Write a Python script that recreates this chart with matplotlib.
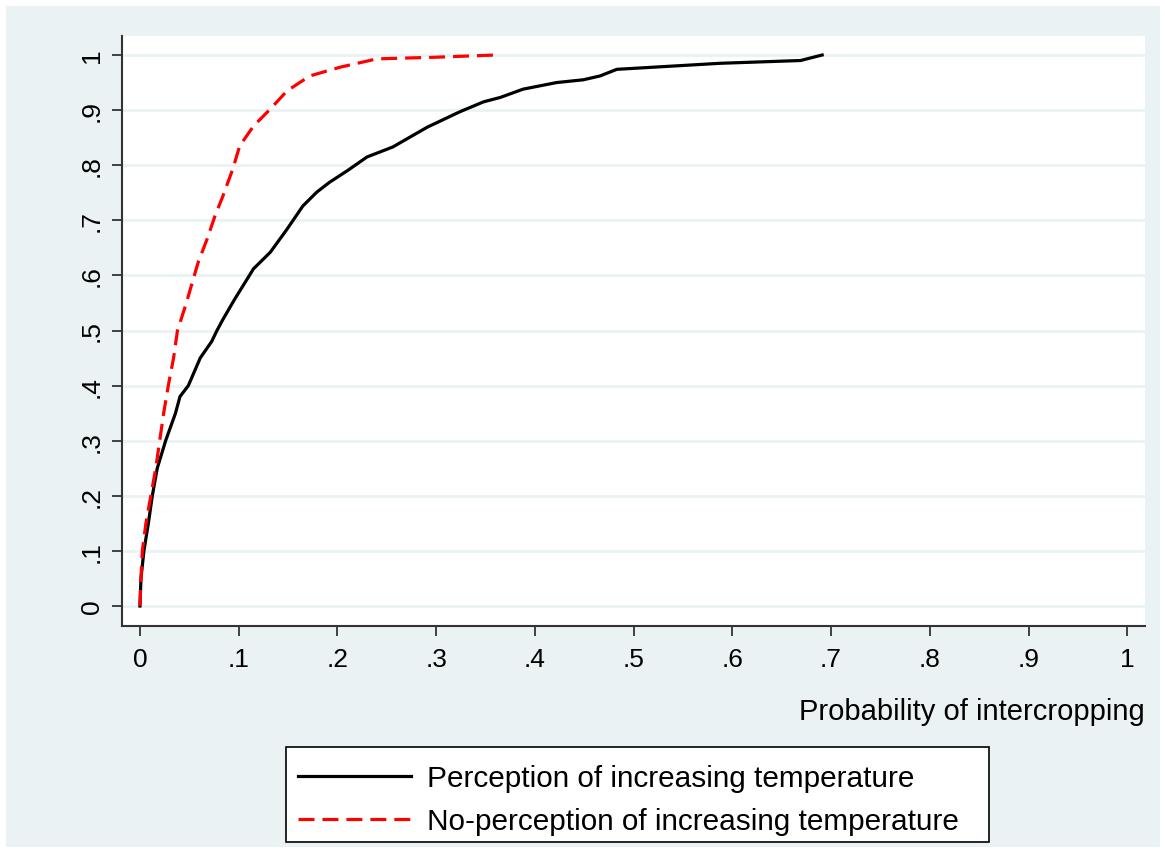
import matplotlib
matplotlib.use('Agg')
import matplotlib.pyplot as plt
from matplotlib.patches import Rectangle

plt.rcParams['font.family'] = ['Liberation Sans', 'DejaVu Sans']

# cumulative distribution of predicted probability of intercropping
perc_x = [0.0, 0.001, 0.004, 0.0085, 0.0125, 0.0175, 0.026, 0.036, 0.0405, 0.049,
          0.061, 0.0726, 0.078, 0.084, 0.096, 0.115, 0.132, 0.149, 0.165, 0.179,
          0.192, 0.210, 0.230, 0.256, 0.291, 0.324, 0.348, 0.365, 0.388, 0.422,
          0.449, 0.466, 0.483, 0.588, 0.669, 0.691]
perc_y = [0.0, 0.05, 0.10, 0.15, 0.20, 0.25, 0.30, 0.35, 0.38, 0.40,
          0.45, 0.48, 0.50, 0.52, 0.557, 0.612, 0.642, 0.684, 0.726, 0.751,
          0.769, 0.790, 0.815, 0.833, 0.869, 0.897, 0.915, 0.923, 0.938, 0.950,
          0.955, 0.962, 0.974, 0.985, 0.990, 1.0]

noperc_x = [0.0, 0.001, 0.0024, 0.006, 0.011, 0.016, 0.020, 0.024, 0.0287, 0.034,
            0.038, 0.047, 0.051, 0.059, 0.068, 0.076, 0.084, 0.094, 0.101, 0.115,
            0.132, 0.149, 0.172, 0.203, 0.240, 0.300, 0.360]
noperc_y = [0.0, 0.05, 0.10, 0.15, 0.20, 0.25, 0.30, 0.35, 0.40, 0.45,
            0.50, 0.55, 0.575, 0.624, 0.666, 0.708, 0.744, 0.793, 0.835, 0.871,
            0.902, 0.935, 0.962, 0.978, 0.993, 0.996, 1.0]

ticks = [0, .1, .2, .3, .4, .5, .6, .7, .8, .9, 1]
tick_labels = ['0', '.1', '.2', '.3', '.4', '.5', '.6', '.7', '.8', '.9', '1']

W, H = 1165, 853
fig = plt.figure(figsize=(W / 100, H / 100), dpi=100, facecolor='white')
bg = '#EAF2F3'
fig.patches.append(Rectangle((6 / W, 1 - 848 / H), (1160 - 6) / W, (848 - 7) / H,
                             transform=fig.transFigure, facecolor=bg, edgecolor='none', zorder=-5))

ax = fig.add_axes([122 / W, 1 - 627 / H, (1145 - 122) / W, (627 - 37) / H])
ax.set_facecolor('white')

ax.plot(perc_x, perc_y, color='black', lw=2.3, label='Perception of increasing temperature', zorder=5)
ax.plot(noperc_x, noperc_y, color='red', lw=2.3, dashes=(5, 2.5),
        label='No-perception of increasing temperature', zorder=6)

ax.set_xlim(-0.0182, 1.018)
ax.set_ylim(-0.0363, 1.0345)
ax.set_xticks(ticks)
ax.set_xticklabels(tick_labels)
ax.set_yticks(ticks)
ax.set_yticklabels(tick_labels, rotation=90, va='center')
ax.grid(True, axis='y', color=bg, lw=2)
ax.set_axisbelow(True)

for s in ['top', 'right']:
    ax.spines[s].set_visible(False)
for s in ['left', 'bottom']:
    ax.spines[s].set_color('#333333')
    ax.spines[s].set_linewidth(1.5)

ax.tick_params(axis='both', direction='out', length=7, width=1.3, color='#333333',
               labelsize=19, labelcolor='black')
ax.tick_params(axis='x', pad=8)
ax.tick_params(axis='y', pad=6)

ax.set_xlabel('Probability of intercropping', fontsize=21, loc='right', labelpad=19)

# legend frame drawn separately so it can be wider than the entries
fig.patches.append(Rectangle((286 / W, 1 - 843 / H), 703 / W, 95 / H,
                             transform=fig.transFigure, facecolor='white',
                             edgecolor='black', lw=1.2, zorder=1))
h, l = ax.get_legend_handles_labels()
leg = fig.legend(h, l, loc='center', bbox_to_anchor=(628.5 / W, 1 - 800.5 / H),
                 fontsize=21.4, frameon=False,
                 handlelength=3.8, handletextpad=0.55, borderpad=0.45, labelspacing=0.5)
leg.set_zorder(2)

plt.savefig('out.png', dpi=100)
